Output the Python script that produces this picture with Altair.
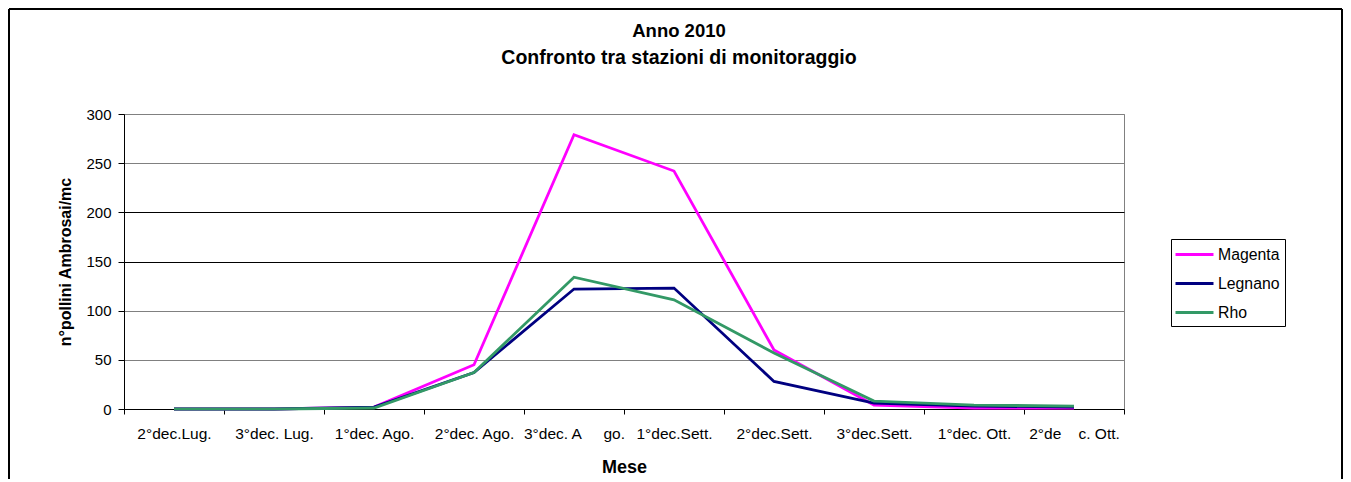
import altair as alt
import pandas as pd

NB = "\u00a0"
title_lines = ["Anno 2010", "Confronto tra stazioni di monitoraggio"]
categories = [
    "2°dec.Lug.", "3°dec. Lug.", "1°dec. Ago.", "2°dec. Ago.",
    "3°dec. A" + NB * 4 + " go.", "1°dec.Sett.", "2°dec.Sett.",
    "3°dec.Sett.", "1°dec. Ott.", "2°de" + NB * 3 + " c. Ott.",
]
magenta = [0, 0, 2, 45, 279, 242, 60, 4, 1, 1]
legnano = [0, 0, 2, 37, 122, 123, 28, 6, 3, 2]
rho = [0, 0, 1, 37, 134, 111, 57, 8, 4, 3]
series = ["Magenta", "Legnano", "Rho"]
colors = ["#FF00FF", "#000080", "#339966"]
y_ticks = [0, 50, 100, 150, 200, 250, 300]

rows = []
for name, vals in zip(series, [magenta, legnano, rho]):
    for c, v in zip(categories, vals):
        rows.append({"Mese": c, "Valore": v, "Stazione": name})
df = pd.DataFrame(rows)

FONT = "Liberation Sans"

lines = alt.Chart(df).mark_line(strokeWidth=2.8).encode(
    x=alt.X("Mese:N", sort=categories,
            scale=alt.Scale(type="band", paddingInner=0, paddingOuter=0),
            axis=alt.Axis(title="Mese", labelAngle=0, tickBand="extent",
                          tickSize=5, labelPadding=12, labelFontSize=15.5,
                          titleFontSize=18, titleFontWeight="bold",
                          titlePadding=17, grid=False, labelLimit=300)),
    y=alt.Y("Valore:Q", scale=alt.Scale(domain=[0, 300], nice=False),
            axis=alt.Axis(values=y_ticks, title="n°pollini Ambrosai/mc",
                          tickSize=6, labelPadding=7, labelFontSize=15,
                          titleFontSize=16, titleFontWeight="bold",
                          titlePadding=12, grid=True,
                          gridColor={"condition": {"test": "datum.value === 150 || datum.value === 200",
                                                   "value": "black"},
                                     "value": "#808080"})),
    color=alt.Color("Stazione:N", sort=series,
                    scale=alt.Scale(domain=series, range=colors),
                    legend=alt.Legend(title=None, orient="none", legendX=1047, legendY=125,
                                      strokeColor="black", fillColor="white", padding=5,
                                      symbolType="M-2.11,0H2.11", symbolSize=324,
                                      symbolStrokeWidth=3, symbolOffset=8,
                                      labelOffset=13, rowPadding=10,
                                      labelFontSize=15.8, labelFont=FONT, labelColor="black")),
)

one = pd.DataFrame({"f": [0]})
frame_style = dict(color="black", strokeWidth=2)
frame_left = alt.Chart(one).mark_rule(**frame_style).encode(
    x=alt.value(-115), y=alt.value(-105), y2=alt.value(420))
frame_right = alt.Chart(one).mark_rule(**frame_style).encode(
    x=alt.value(1218), y=alt.value(-105), y2=alt.value(420))
frame_top = alt.Chart(one).mark_rule(**frame_style).encode(
    x=alt.value(-115), x2=alt.value(1218), y=alt.value(-105))

title_style = dict(font=FONT, fontWeight="bold", color="black",
                   align="center", baseline="middle")
title1 = alt.Chart(one).mark_text(text=title_lines[0], fontSize=18.5, **title_style).encode(
    x=alt.value(555), y=alt.value(-83))
title2 = alt.Chart(one).mark_text(text=title_lines[1], fontSize=19.5, **title_style).encode(
    x=alt.value(555), y=alt.value(-56))

chart = alt.layer(frame_left, frame_right, frame_top, title1, title2, lines).properties(
    width=1000, height=295,
    autosize=alt.AutoSizeParams(type="none"),
    padding={"left": 116, "top": 106, "right": 219, "bottom": 70},
).configure_view(stroke="#808080", strokeWidth=1).configure_axis(
    domainColor="black", tickColor="black", labelColor="black", titleColor="black",
    labelFont=FONT, titleFont=FONT,
)

chart.save("out.html", embed_options={"renderer": "svg", "actions": False})
